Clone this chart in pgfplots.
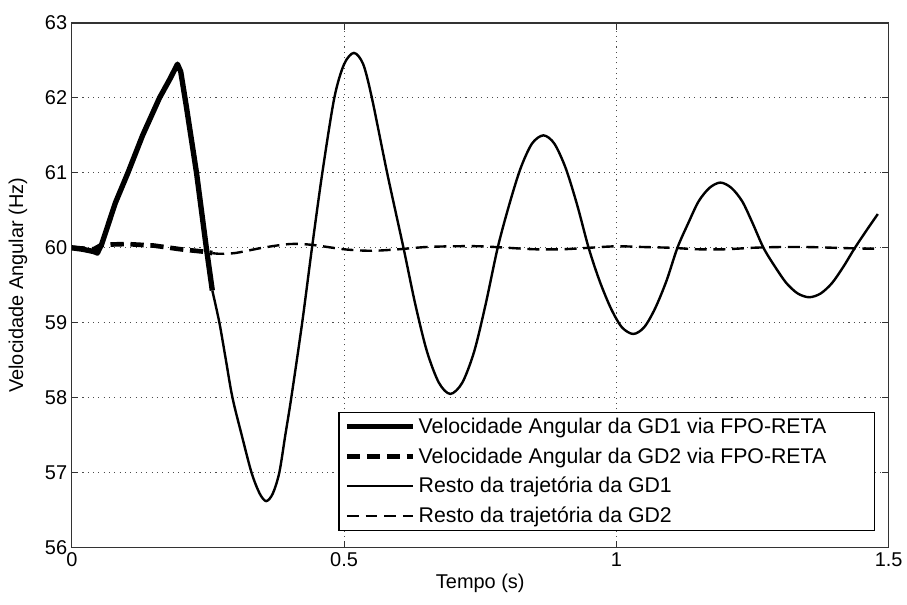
\documentclass[border=0pt]{standalone}
\usepackage{pgfplots}
\pgfplotsset{compat=1.18}
\usepackage{fontspec}
\setmainfont{Liberation Sans}
\begin{document}
\begin{tikzpicture}[font=\fontsize{15}{18}\selectfont]
\begin{axis}[
  scale only axis,
  width=614.25pt, height=394.5pt,
  xmin=0, xmax=1.5, ymin=56, ymax=63,
  xtick={0,0.5,1,1.5}, ytick={56,57,58,59,60,61,62,63},
  /pgf/number format/assume math mode=true,
  grid=major,
  grid style={black!70, line width=0.7pt, dash pattern=on 0.8pt off 3.2pt},
  axis line style={black!80, line width=0.9pt},
  major tick style={black!80, line width=0.9pt},
  major tick length=5pt,
  tick align=inside,
  xlabel={Tempo (s)}, ylabel={Velocidade Angular (Hz)},
  x label style={at={(axis description cs:0.5,-0.068)}, anchor=center},
  y label style={at={(axis description cs:-0.066,0.5)}, anchor=center},
  legend cell align=left,
  legend style={at={(axis description cs:0.983,0.032)}, anchor=south east,
    draw=black, line width=0.9pt, fill=white, inner xsep=4pt, inner ysep=2pt,
    row sep=5.2pt, font=\fontsize{16}{19}\selectfont},
  legend image code/.code={\draw[#1] (0pt,0pt) -- (50pt,0pt);},
]
% GD1 via FPO-RETA (thick solid)
\addplot[black, line width=4pt, line join=round] coordinates {
 (0,60.0) (0.02,59.98) (0.04,59.95) (0.047,59.93) (0.055,60.05) (0.08,60.6)
 (0.103,61.0) (0.13,61.5) (0.161,62.0) (0.18,62.25) (0.194,62.45) (0.2,62.35)
 (0.21,61.9) (0.229,61.0) (0.247,60.0) (0.258,59.43)
};
\addlegendentry{Velocidade Angular da GD1 via FPO-RETA\hspace*{30pt}}
% GD2 via FPO-RETA (thick dashed)
\addplot[black, line width=3.5pt, dash pattern=on 10pt off 5pt] coordinates {
 (0,60.0) (0.04,59.98) (0.055,60.04) (0.1,60.05) (0.15,60.03) (0.2,59.98)
 (0.24,59.95) (0.258,59.93)
};
\addlegendentry{Velocidade Angular da GD2 via FPO-RETA}
% rest GD1 (thin solid)
\addplot[black, line width=1.8pt, smooth, tension=0.5] coordinates {
 (0.258,59.43) (0.271,59.0) (0.283,58.5) (0.295,58.0) (0.312,57.5) (0.33,57.0)
 (0.345,56.72) (0.357,56.62) (0.369,56.72) (0.381,57.0) (0.392,57.5) (0.403,58.0)
 (0.423,59.0) (0.441,60.0) (0.46,61.0) (0.482,62.0) (0.50,62.45) (0.518,62.6)
 (0.535,62.45) (0.551,62.0) (0.579,61.0) (0.609,60.0)
 (0.6306,59.25) (0.652,58.62) (0.674,58.20) (0.695,58.05) (0.717,58.20)
 (0.739,58.62) (0.760,59.25) (0.782,60.0)
 (0.803,60.57) (0.824,61.06) (0.845,61.39) (0.866,61.5) (0.886,61.39)
 (0.907,61.06) (0.928,60.57) (0.949,60.0)
 (0.969,59.56) (0.990,59.19) (1.010,58.94) (1.031,58.85) (1.051,58.94)
 (1.071,59.19) (1.092,59.56) (1.112,60.0)
 (1.132,60.33) (1.151,60.62) (1.171,60.80) (1.191,60.87) (1.211,60.80)
 (1.231,60.62) (1.250,60.33) (1.270,60.0)
 (1.291,59.75) (1.312,59.53) (1.333,59.39) (1.354,59.34) (1.375,59.39)
 (1.396,59.53) (1.417,59.75) (1.438,60.0) (1.46,60.24) (1.48,60.45)
};
\addlegendentry{Resto da trajetória da GD1}
% rest GD2 (thin dashed)
\addplot[black, line width=1.8pt, dash pattern=on 9pt off 5pt, smooth] coordinates {
 (0.258,59.93) (0.27,59.92) (0.3,59.93) (0.35,60.0) (0.4,60.05) (0.44,60.04)
 (0.5,59.98) (0.55,59.96) (0.6,59.98) (0.65,60.01) (0.7,60.02) (0.75,60.02)
 (0.8,60.0) (0.85,59.98) (0.9,59.98) (0.95,60.0) (1.0,60.02) (1.05,60.01)
 (1.1,60.0) (1.15,59.98) (1.2,59.98) (1.25,60.0) (1.3,60.01) (1.35,60.01)
 (1.4,60.0) (1.45,59.99) (1.48,59.99)
};
\addlegendentry{Resto da trajetória da GD2}
\end{axis}
\path (current axis.south west) ++(-54pt,-42.75pt) coordinate (bbA);
\path (current axis.north east) ++(12pt,17.25pt) coordinate (bbB);
\useasboundingbox (bbA) rectangle (bbB);
\end{tikzpicture}
\end{document}
